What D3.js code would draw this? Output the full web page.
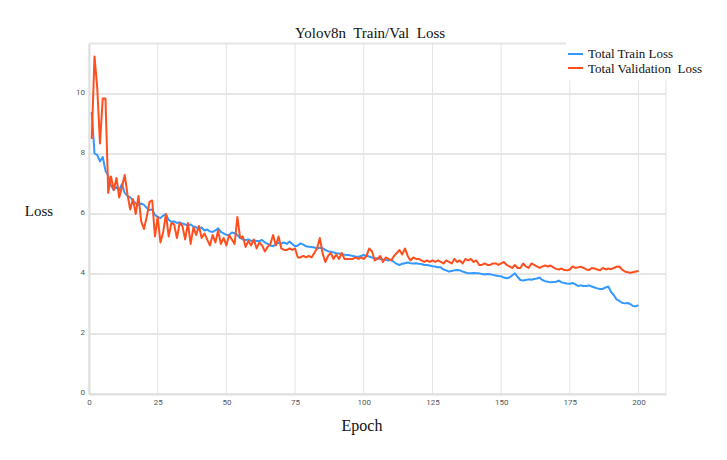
<!DOCTYPE html>
<html lang="en">
<head>
<meta charset="UTF-8">
<title>Yolov8n Train/Val Loss</title>
<script src="https://d3js.org/d3.v7.min.js"></script>
<style>
    body { margin: 0; background: #fff; }
    svg { display: block; }
    .tick text { font-family: Roboto, "DejaVu Sans", sans-serif; font-size: 8px; fill: #555; }
    .serif { font-family: "Liberation Serif", "Times New Roman", serif; fill: #111; }
</style>
</head>
<body>
<svg id="chart" width="727" height="460"></svg>
<script>
// epochs 1..200
const epochs = d3.range(1, 201);

const trainLoss = [
    9.4, 8.02, 7.97, 7.75, 7.9, 7.44, 7.28, 6.95, 6.8, 6.9,
    6.8, 7.0, 6.7, 6.6, 6.55, 6.45, 6.35, 6.3, 6.35, 6.3,
    6.2, 6.13, 6.15, 5.97, 5.9, 5.86, 5.95, 5.98, 5.8, 5.74,
    5.75, 5.7, 5.72, 5.68, 5.65, 5.62, 5.65, 5.58, 5.55, 5.52,
    5.55, 5.45, 5.48, 5.42, 5.4, 5.45, 5.52, 5.4, 5.35, 5.3,
    5.3, 5.38, 5.36, 5.3, 5.2, 5.15, 5.13, 5.15, 5.1, 5.12,
    5.1, 5.1, 5.13, 5.05, 5.0, 4.95, 4.92, 5.0, 5.04, 5.02,
    5.05, 5.0, 5.08, 5.0, 4.92, 4.95, 5.02, 4.98, 4.92, 4.91,
    4.9, 4.88, 4.86, 4.87, 4.86, 4.8, 4.76, 4.74, 4.72, 4.69,
    4.68, 4.66, 4.64, 4.63, 4.62, 4.6, 4.58, 4.57, 4.6, 4.63,
    4.6, 4.58, 4.55, 4.52, 4.52, 4.5, 4.48, 4.47, 4.45, 4.47,
    4.4, 4.33, 4.3, 4.34, 4.36, 4.38, 4.36, 4.35, 4.36, 4.34,
    4.33, 4.3, 4.3, 4.28, 4.26, 4.25, 4.22, 4.22, 4.15, 4.12,
    4.08, 4.1, 4.12, 4.13, 4.12, 4.08, 4.05, 4.02, 4.02, 4.03,
    4.02, 4.02, 4.0, 3.98, 4.0, 3.99, 3.97, 3.95, 3.93, 3.92,
    3.88, 3.86, 3.88, 3.95, 4.02, 3.9, 3.8, 3.78, 3.8, 3.82,
    3.81, 3.83, 3.85, 3.88, 3.8, 3.76, 3.74, 3.72, 3.73, 3.74,
    3.78, 3.72, 3.7, 3.68, 3.67, 3.7, 3.65, 3.6, 3.62, 3.6,
    3.6, 3.62, 3.58, 3.55, 3.52, 3.5, 3.5, 3.55, 3.58, 3.4,
    3.3, 3.15, 3.1, 3.04, 3.02, 3.03, 3.0, 2.93, 2.92, 2.96
];

const valLoss = [
    8.5, 11.25, 10.2, 8.35, 9.85, 9.85, 6.7, 7.25, 6.8, 7.2,
    6.55, 6.9, 7.3, 6.65, 6.15, 6.5, 6.0, 6.6, 5.75, 5.5,
    5.9, 6.4, 6.45, 5.25, 5.9, 5.05, 5.4, 6.0, 5.25, 5.7,
    5.65, 5.2, 5.7, 5.6, 5.15, 5.7, 5.0, 5.55, 5.3, 5.6,
    5.2, 5.35, 5.15, 4.95, 5.3, 5.05, 5.45, 5.0, 5.2, 4.95,
    5.3, 5.15, 5.0, 5.9, 5.2, 5.25, 4.9, 5.1, 4.95, 5.15,
    4.85, 5.05, 4.95, 4.75, 4.9, 5.0, 5.3, 4.95, 5.25, 4.85,
    4.8, 4.8, 4.85, 4.8, 4.85, 4.55, 4.55, 4.6, 4.55, 4.6,
    4.55, 4.7, 4.85, 5.2, 4.7, 4.4, 4.6, 4.7, 4.5, 4.65,
    4.5, 4.7, 4.5, 4.5, 4.5, 4.5, 4.55, 4.5, 4.55, 4.5,
    4.6, 4.85, 4.75, 4.45, 4.5, 4.6, 4.4, 4.55, 4.5, 4.45,
    4.6, 4.7, 4.8, 4.65, 4.85, 4.6, 4.45, 4.55, 4.5, 4.5,
    4.45, 4.4, 4.45, 4.4, 4.45, 4.4, 4.45, 4.4, 4.35, 4.45,
    4.4, 4.35, 4.5, 4.4, 4.45, 4.35, 4.5, 4.45, 4.5, 4.4,
    4.45, 4.3, 4.3, 4.35, 4.3, 4.3, 4.35, 4.35, 4.3, 4.35,
    4.4, 4.3, 4.25, 4.2, 4.3, 4.2, 4.2, 4.35, 4.25, 4.2,
    4.35, 4.3, 4.25, 4.2, 4.25, 4.28, 4.25, 4.28, 4.22, 4.17,
    4.15, 4.18, 4.13, 4.12, 4.15, 4.25, 4.2, 4.22, 4.24, 4.2,
    4.15, 4.13, 4.2, 4.18, 4.15, 4.12, 4.2, 4.15, 4.18, 4.16,
    4.2, 4.24, 4.25, 4.15, 4.08, 4.06, 4.04, 4.06, 4.08, 4.1
];

const xTicks = [0, 25, 50, 75, 100, 125, 150, 175, 200];
const yTicks = [0, 2, 4, 6, 8, 10];
const seriesNames = ["Total Train Loss", "Total Validation  Loss"];
const seriesColors = ["#3399ff", "#ff4f1f"];

const svg = d3.select("#chart");
const plotL = 89, plotR = 666, plotT = 43.5, plotB = 394;

const x = d3.scaleLinear().domain([0, 210]).range([plotL, plotR]);
const y = d3.scaleLinear().domain([0, 11.68]).range([plotB, plotT]);

// grid
const grid = svg.append("g");
grid.selectAll(".vg").data(xTicks.concat([210])).join("line")
    .attr("x1", d => x(d)).attr("x2", d => x(d))
    .attr("y1", plotT).attr("y2", plotB)
    .attr("stroke", "#e3e3e3").attr("stroke-width", 1);
grid.selectAll(".hg").data(yTicks.concat([11.68])).join("line")
    .attr("x1", plotL).attr("x2", plotR)
    .attr("y1", d => y(d)).attr("y2", d => y(d))
    .attr("stroke", "#e6e6e6").attr("stroke-width", 2);

// axes
const xAxis = svg.append("g")
    .attr("transform", `translate(0,${plotB})`)
    .call(d3.axisBottom(x).tickValues(xTicks).tickSize(0).tickPadding(5));
xAxis.select(".domain").attr("stroke", "#e0e0e0").attr("stroke-width", 2);

const yAxis = svg.append("g")
    .attr("transform", `translate(${plotL},0)`)
    .call(d3.axisLeft(y).tickValues(yTicks).tickSize(0).tickPadding(4));
yAxis.select(".domain").attr("stroke", "#e0e0e0").attr("stroke-width", 2);
yAxis.selectAll(".tick text").attr("dy", "0.1em");

// lines
const lineGen = d3.line().x((d, i) => x(epochs[i])).y(d => y(d));
[trainLoss, valLoss].forEach((s, k) => {
    svg.append("path")
        .datum(s)
        .attr("fill", "none")
        .attr("stroke", seriesColors[k])
        .attr("stroke-width", 2)
        .attr("stroke-linejoin", "round")
        .attr("d", lineGen);
});

// legend
svg.append("rect").attr("x", 566).attr("y", 38).attr("width", 142).attr("height", 42).attr("fill", "#fff");
const legend = svg.append("g");
seriesNames.forEach((n, k) => {
    const ly = 54 + k * 14;
    legend.append("line")
        .attr("x1", 568).attr("x2", 583).attr("y1", ly).attr("y2", ly)
        .attr("stroke", seriesColors[k]).attr("stroke-width", 2);
    legend.append("text").attr("class", "serif")
        .attr("x", 588).attr("y", ly + 4 + k)
        .attr("font-size", 13)
        .style("white-space", "pre")
        .text(n);
});

// titles
svg.append("text").attr("class", "serif")
    .attr("x", 370).attr("y", 38)
    .attr("text-anchor", "middle").attr("font-size", 15)
    .style("white-space", "pre")
    .text("Yolov8n  Train/Val  Loss");

svg.append("text").attr("class", "serif")
    .attr("x", 39).attr("y", 216)
    .attr("text-anchor", "middle").attr("font-size", 15)
    .text("Loss");

svg.append("text").attr("class", "serif")
    .attr("x", 362).attr("y", 431)
    .attr("text-anchor", "middle").attr("font-size", 16)
    .text("Epoch");
</script>
</body>
</html>
